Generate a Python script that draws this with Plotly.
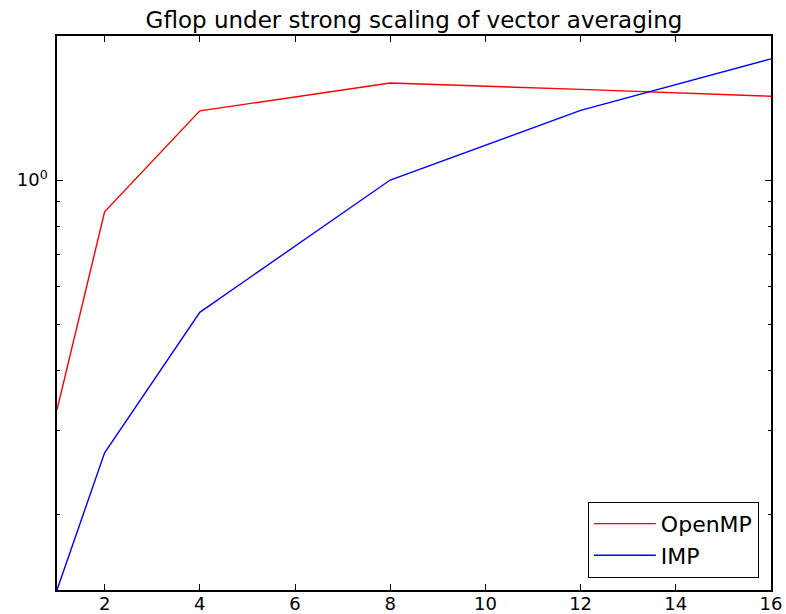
import math
import plotly.graph_objects as go

threads = [1, 2, 4, 8, 12, 16]
openmp_gflops = [0.331, 0.858, 1.395, 1.595, 1.547, 1.497]
imp_gflops = [0.139, 0.269, 0.529, 1.0, 1.398, 1.792]

x_ticks = [2, 4, 6, 8, 10, 12, 14, 16]
y_major = [1.0]
y_major_text = ["10<sup>0</sup>"]
y_minor = [0.2, 0.3, 0.4, 0.5, 0.6, 0.7, 0.8, 0.9]
x_range = [1, 16]
y_range = [0.139, 2.0]

fig = go.Figure()
fig.add_trace(go.Scatter(x=threads, y=openmp_gflops, mode="lines", name="OpenMP",
                         line=dict(color="#ff0000", width=1.4)))
fig.add_trace(go.Scatter(x=threads, y=imp_gflops, mode="lines", name="IMP",
                         line=dict(color="#0000ff", width=1.4)))

font = "DejaVu Sans, Liberation Sans, sans-serif"
fig.update_layout(
    width=786, height=614,
    margin=dict(l=57, r=15, t=36, b=24, autoexpand=False),
    paper_bgcolor="white", plot_bgcolor="white",
    font=dict(family=font, size=18, color="black"),
    title=dict(text="Gflop under strong scaling of vector averaging",
               x=(57 + 714 / 2) / 786, xanchor="center",
               y=1 - 20 / 614, yanchor="middle", yref="container",
               font=dict(size=23, family=font, color="black")),
    showlegend=True,
    legend=dict(x=0.983, y=0.022, xanchor="right", yanchor="bottom",
                bgcolor="white", bordercolor="black", borderwidth=1,
                font=dict(size=22, family=font, color="black"),
                itemwidth=62, tracegroupgap=0),
)
fig.update_xaxes(
    range=x_range, tickmode="array", tickvals=x_ticks,
    ticks="inside", ticklen=6, tickwidth=1, tickcolor="black",
    showline=True, linecolor="black", linewidth=1.5, mirror="ticks",
    showgrid=False, zeroline=False, tickfont=dict(size=18),
    ticklabelstandoff=-3,
)
fig.update_yaxes(
    type="log", range=[math.log10(y_range[0]), math.log10(y_range[1])],
    tickmode="array", tickvals=y_major, ticktext=y_major_text,
    ticks="inside", ticklen=6, tickwidth=1, tickcolor="black",
    minor=dict(tickmode="array", tickvals=y_minor, ticks="inside", ticklen=3,
               tickwidth=1, tickcolor="black", showgrid=False),
    showline=True, linecolor="black", linewidth=1.5, mirror="ticks",
    showgrid=False, zeroline=False, tickfont=dict(size=18),
    ticklabelstandoff=4,
)
fig.write_html(
    "out.html",
    config={"displayModeBar": False},
    post_script="document.body.style.margin='0';document.body.style.overflow='hidden';",
)
